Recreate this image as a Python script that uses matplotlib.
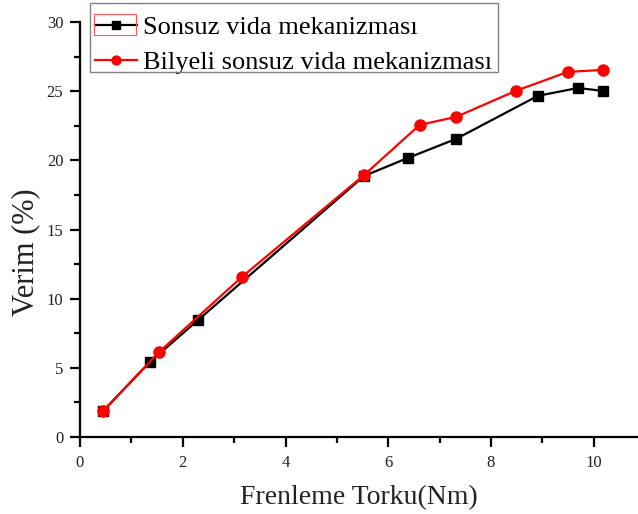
import numpy as np
import matplotlib.pyplot as plt
from matplotlib.patches import Rectangle

plt.rcParams['font.family'] = ['Liberation Serif', 'DejaVu Serif']

# data
x_sonsuz = [0.45, 1.36, 2.30, 5.53, 6.38, 7.32, 8.91, 9.69, 10.18]
y_sonsuz = [1.88, 5.42, 8.46, 18.87, 20.17, 21.55, 24.66, 25.23, 25.02]
x_bilyeli = [0.45, 1.54, 3.15, 5.53, 6.61, 7.32, 8.48, 9.49, 10.18]
y_bilyeli = [1.88, 6.15, 11.57, 18.94, 22.56, 23.14, 25.02, 26.39, 26.54]
labels = ['Sonsuz vida mekanizması', 'Bilyeli sonsuz vida mekanizması']

W, H = 638, 514
fig = plt.figure(figsize=(W / 100, H / 100), dpi=100)
ax = fig.add_axes([80 / W, 1 - 437 / H, 1 - 80 / W, 415 / H])

ax.plot(x_sonsuz, y_sonsuz, color='black', lw=1.6, marker='s', ms=7, label=labels[0])
ax.plot(x_bilyeli, y_bilyeli, color='red', lw=1.6, marker='o', ms=8, label=labels[1])

ax.set_xlim(0, 10.86)
ax.set_ylim(0, 30)
ax.set_xticks([0, 2, 4, 6, 8, 10])
ax.set_xticks(np.arange(1, 11, 2), minor=True)
ax.set_yticks([0, 5, 10, 15, 20, 25, 30])
ax.set_yticks(np.arange(2.5, 30, 5), minor=True)
for s in ['top', 'right']:
    ax.spines[s].set_visible(False)
for s in ['left', 'bottom']:
    ax.spines[s].set_linewidth(1.6)
ax.tick_params(which='major', direction='out', length=7, width=1.6, labelsize=12,
               labelcolor='#222222', pad=5)
ax.tick_params(which='minor', direction='out', length=4, width=1.6)
ax.tick_params(axis='x', which='major', pad=6)
ax.set_xlabel('Frenleme Torku(Nm)', fontsize=20, labelpad=10, color='#222222')
fig.text(26 / W, 1 - 252 / H, 'Verim (%)', rotation=90, ha='center', va='center',
         fontsize=22, color='#222222')

# legend without its own frame, frame drawn separately
leg = fig.legend(loc='upper left', bbox_to_anchor=(90 / W, 1 - 11 / H), fontsize=19,
                 frameon=False, handlelength=1.6, markerscale=0.8,
                 borderpad=0.18, labelspacing=0.42, handletextpad=0.22, borderaxespad=0)
frame = Rectangle((90 / W, 1 - 72 / H), 408 / W, 69 / H, transform=fig.transFigure,
                  fill=False, edgecolor='gray', lw=1.0, zorder=10)
fig.add_artist(frame)

# red selection box around first legend handle (as in the reference)
box = Rectangle((94 / W, 1 - 35 / H), 42 / W, 21 / H, transform=fig.transFigure,
                fill=False, edgecolor='#ff5555', lw=0.8, zorder=10)
fig.add_artist(box)

fig.savefig('out.png', dpi=100)
